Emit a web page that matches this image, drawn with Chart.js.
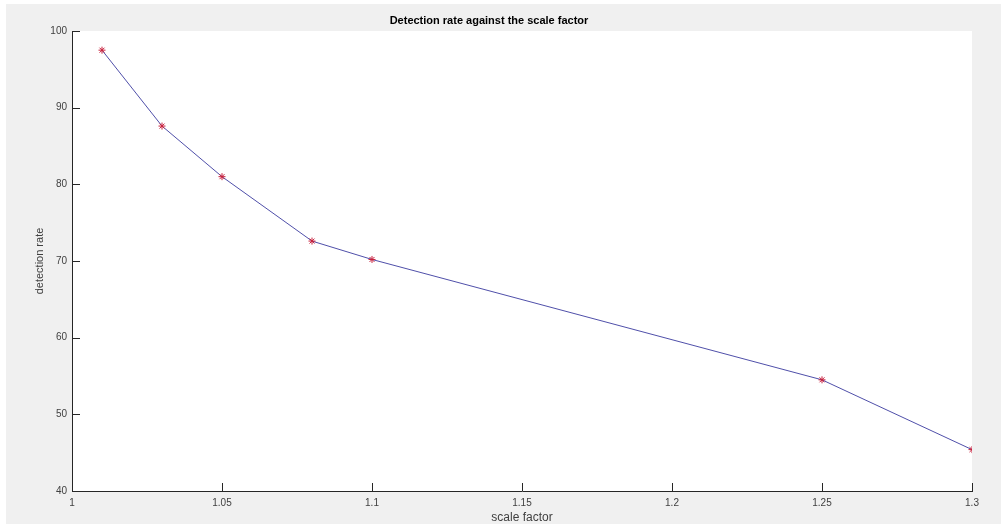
<!DOCTYPE html>
<html>
<head>
<meta charset="utf-8">
<script src="https://cdn.jsdelivr.net/npm/chart.js@4.4.0/dist/chart.umd.min.js"></script>
<style>
  html, body { margin: 0; padding: 0; background: #ffffff; }
  #wrap { position: absolute; left: 6px; top: 4px; width: 995px; height: 520px; background: #f0f0f0; }
</style>
</head>
<body>
<div id="wrap"><canvas id="myChart" width="995" height="520"></canvas></div>
<script>
// data
const scaleFactor = [1.01, 1.03, 1.05, 1.08, 1.1, 1.25, 1.3];
const detectionRate = [97.5, 87.6, 81.0, 72.6, 70.2, 54.5, 45.4];
const xTicks = [1, 1.05, 1.1, 1.15, 1.2, 1.25, 1.3];
const yTicks = [40, 50, 60, 70, 80, 90, 100];

// white plot box behind the axes
const plotBg = {
  id: 'plotBg',
  beforeDraw(chart) {
    const { ctx, chartArea: a } = chart;
    ctx.save();
    ctx.fillStyle = '#ffffff';
    ctx.fillRect(a.left, a.top, a.right - a.left, a.bottom - a.top);
    ctx.restore();
  }
};

// matlab style ticks pointing inwards
const innerTicks = {
  id: 'innerTicks',
  afterDraw(chart) {
    const { ctx, chartArea: a, scales } = chart;
    ctx.save();
    ctx.strokeStyle = '#262626';
    ctx.lineWidth = 1;
    ctx.beginPath();
    for (const v of xTicks) {
      const px = Math.round(scales.x.getPixelForValue(v)) + 0.5;
      ctx.moveTo(px, a.bottom);
      ctx.lineTo(px, a.bottom - 8);
    }
    for (const v of yTicks) {
      const py = Math.round(scales.y.getPixelForValue(v)) + 0.5;
      ctx.moveTo(a.left, py);
      ctx.lineTo(a.left + 8, py);
    }
    ctx.stroke();
    ctx.restore();
  }
};

function mainEvent() {
  const ctx = document.querySelector('#myChart');
  Chart.defaults.font.family = '"Liberation Sans", Arial, Helvetica, sans-serif';

  new Chart(ctx, {
    type: 'line',
    data: {
      datasets: [{
        data: scaleFactor.map((x, i) => ({ x: x, y: detectionRate[i] })),
        borderColor: 'rgba(60, 60, 160, 0.9)',
        borderWidth: 1,
        tension: 0,
        fill: false,
        pointStyle: 'star',
        pointRadius: 3.5,
        pointBorderColor: '#c8203c',
        pointBackgroundColor: '#c8203c',
        pointBorderWidth: 1
      }]
    },
    options: {
      responsive: false,
      animation: false,
      layout: { padding: { left: 0, right: 29, top: 0, bottom: 0 } },
      plugins: {
        legend: { display: false },
        tooltip: { enabled: false },
        title: {
          display: true,
          text: 'Detection rate against the scale factor',
          color: '#000000',
          font: { size: 11, weight: 'bold' },
          padding: { top: 10.4, bottom: 3.4 }
        }
      },
      scales: {
        x: {
          type: 'linear',
          min: 1,
          max: 1.3,
          afterFit(scale) { scale.height = 33; },
          afterBuildTicks(scale) { scale.ticks = xTicks.map(v => ({ value: v })); },
          grid: { display: true, drawOnChartArea: false, drawTicks: false },
          border: { display: true, color: '#262626', width: 1 },
          ticks: {
            padding: 6,
            color: '#404040',
            font: { size: 10 },
            maxRotation: 0,
            callback: v => String(v)
          },
          title: {
            display: true,
            text: 'scale factor',
            color: '#404040',
            font: { size: 12 },
            padding: { top: 0, bottom: -0.5 }
          }
        },
        y: {
          type: 'linear',
          min: 40,
          max: 100,
          afterFit(scale) { scale.width = 66; },
          afterBuildTicks(scale) { scale.ticks = yTicks.map(v => ({ value: v })); },
          grid: { display: true, drawOnChartArea: false, drawTicks: false },
          border: { display: true, color: '#262626', width: 1 },
          ticks: {
            padding: 5,
            color: '#404040',
            font: { size: 10 }
          },
          title: {
            display: true,
            text: 'detection rate',
            color: '#404040',
            font: { size: 11 },
            padding: { top: 27.4, bottom: 0 }
          }
        }
      }
    },
    plugins: [plotBg, innerTicks]
  });
}

document.addEventListener("DOMContentLoaded", () => mainEvent());
</script>
</body>
</html>
